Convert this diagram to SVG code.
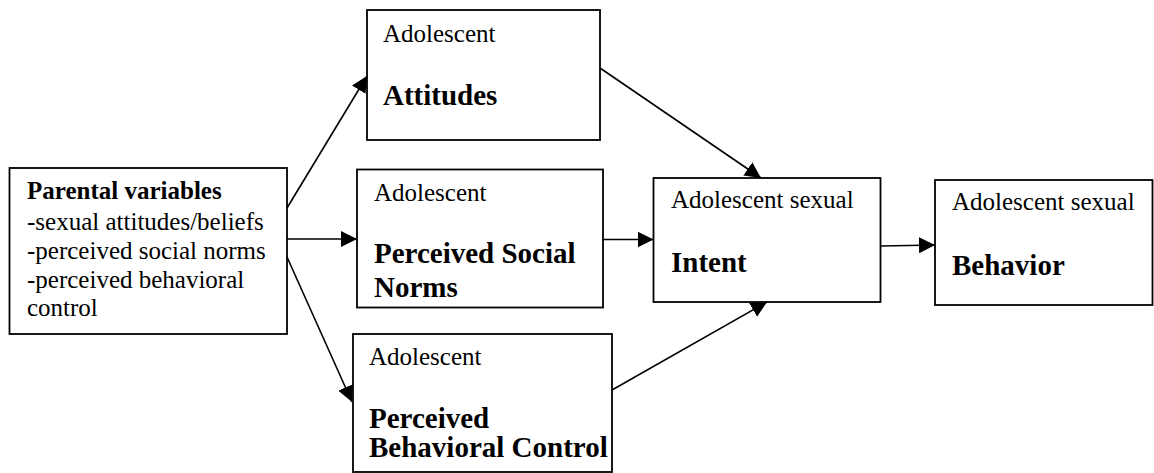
<svg xmlns="http://www.w3.org/2000/svg" width="1154" height="473" viewBox="0 0 1154 473">
<defs>
<marker id="arr" viewBox="0 0 16 16" refX="16" refY="8" markerWidth="16" markerHeight="16" markerUnits="userSpaceOnUse" orient="auto">
<path d="M0,0 L16,8 L0,16 z" fill="#000"/>
</marker>
<style>
.box{fill:#fff;stroke:#000;stroke-width:1.8}
.t{font-family:"Liberation Serif","Times New Roman",serif;font-size:25px;fill:#000}
.b{font-family:"Liberation Serif","Times New Roman",serif;font-size:29px;font-weight:bold;fill:#000}
.bs{font-weight:bold}
.c{stroke:#000;stroke-width:1.6;fill:none;marker-end:url(#arr)}
</style>
</defs>
<rect width="1154" height="473" fill="#fff"/>
<g id="parental">
<rect class="box" x="9.5" y="168" width="277.5" height="166"/>
<text class="t" x="27" y="199"><tspan class="bs">Parental variables</tspan></text>
<text class="t" x="27" y="230">-sexual attitudes/beliefs</text>
<text class="t" x="27" y="259">-perceived social norms</text>
<text class="t" x="27" y="288">-perceived behavioral</text>
<text class="t" x="27" y="316">control</text>
</g>
<g id="attitudes">
<rect class="box" x="367" y="10" width="233" height="130"/>
<text class="t" x="383" y="42">Adolescent</text>
<text class="b" x="383" y="105">Attitudes</text>
</g>
<g id="norms">
<rect class="box" x="357" y="169.5" width="246" height="138"/>
<text class="t" x="374" y="201">Adolescent</text>
<text class="b" x="374" y="263">Perceived Social</text>
<text class="b" x="374" y="297">Norms</text>
</g>
<g id="control">
<rect class="box" x="353" y="334" width="259" height="138"/>
<text class="t" x="369" y="365">Adolescent</text>
<text class="b" x="369" y="428">Perceived</text>
<text class="b" x="369" y="457">Behavioral Control</text>
</g>
<g id="intent">
<rect class="box" x="653.5" y="178" width="227" height="124"/>
<text class="t" x="671" y="208">Adolescent sexual</text>
<text class="b" x="671" y="272">Intent</text>
</g>
<g id="behavior">
<rect class="box" x="935" y="180" width="217.5" height="125"/>
<text class="t" x="952" y="210">Adolescent sexual</text>
<text class="b" x="952" y="275">Behavior</text>
</g>
<g id="connectors">
<line class="c" x1="287" y1="208" x2="367" y2="76"/>
<line class="c" x1="287" y1="239" x2="357" y2="239"/>
<line class="c" x1="287" y1="257" x2="352" y2="402"/>
<line class="c" x1="600" y1="68" x2="761" y2="178"/>
<line class="c" x1="603" y1="239.5" x2="653.5" y2="239.5"/>
<line class="c" x1="612" y1="390" x2="767" y2="302"/>
<line class="c" x1="881" y1="246" x2="935" y2="245"/>
</g>
</svg>
